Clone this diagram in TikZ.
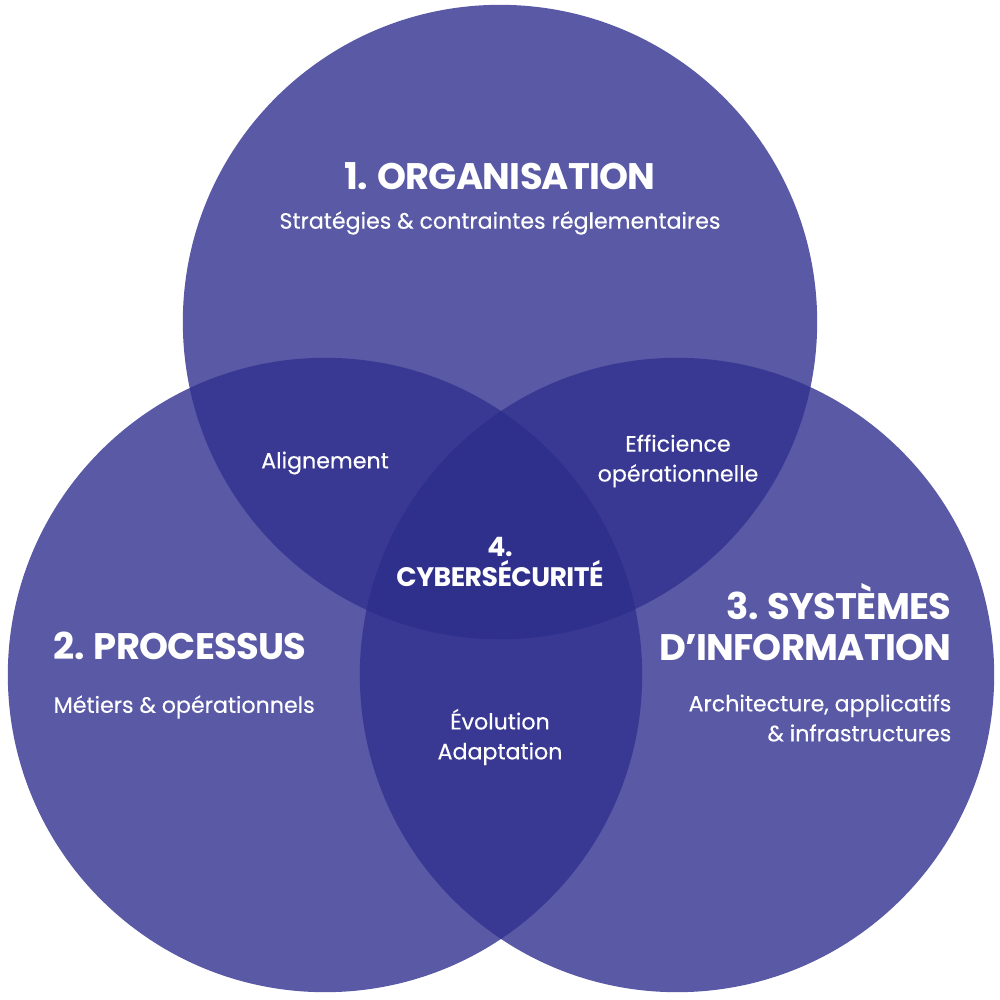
\documentclass[tikz,border=0pt]{standalone}
\usepackage{fontspec}
\setmainfont{Poppins}
\newfontfamily\titlefont[LetterSpace=-2]{Poppins}
\newfontfamily\detailfont[FakeBold=0.3]{Poppins}
\definecolor{vennone}{HTML}{5959A6}
\definecolor{venntwo}{HTML}{393994}
\definecolor{vennthree}{HTML}{2F2F8C}
\tikzset{
  titre/.style={text=white,inner sep=0pt,font=\titlefont\bfseries\fontsize{10.5}{11.7}\selectfont},
  detail/.style={text=white,inner sep=0pt,font=\detailfont\fontsize{6.3}{8.5}\selectfont},
}
\begin{document}
\begin{tikzpicture}[x=0.01cm,y=-0.01cm]
  \def\R{3.17cm}
  \useasboundingbox (0,0) rectangle (1000,1000);
  \coordinate (orga) at (500,322);
  \coordinate (proc) at (325,675);
  \coordinate (sys) at (677,675);
  % cercles
  \foreach \c in {orga,proc,sys}
    \fill[vennone] (\c) circle[radius=\R];
  \foreach \a/\b in {orga/proc,orga/sys,proc/sys}{
    \begin{scope}
      \clip (\a) circle[radius=\R];
      \fill[venntwo] (\b) circle[radius=\R];
    \end{scope}
  }
  \begin{scope}
    \clip (orga) circle[radius=\R];
    \clip (proc) circle[radius=\R];
    \fill[vennthree] (sys) circle[radius=\R];
  \end{scope}
  % textes
  \node[titre] (orgaT) at (500,176) {1. ORGANISATION};
  \node[detail] (orgaD) at (500,223) {Stratégies \& contraintes réglementaires};
  \node[titre,anchor=west] (procT) at (53,646) {2. PROCESSUS};
  \node[detail,anchor=west] (procD) at (53,707) {Métiers \& opérationnels};
  \node[titre,anchor=east,align=right] (sysT) at (952,622) {3. SYSTÈMES\\D’INFORMATION};
  \node[detail,anchor=east,align=right] (sysD) at (952,718) {Architecture, applicatifs\\\& infrastructures};
  \node[detail] (align) at (325,463) {Alignement};
  \node[detail,align=center] (effic) at (678,461) {Efficience\\opérationnelle};
  \node[titre,align=center,font=\titlefont\bfseries\fontsize{7.6}{8.7}\selectfont] (cyber) at (500,562) {4.\\CYBERSÉCURITÉ};
  \node[detail,align=center] (evol) at (500,737) {Évolution\\Adaptation};
\end{tikzpicture}
\end{document}
